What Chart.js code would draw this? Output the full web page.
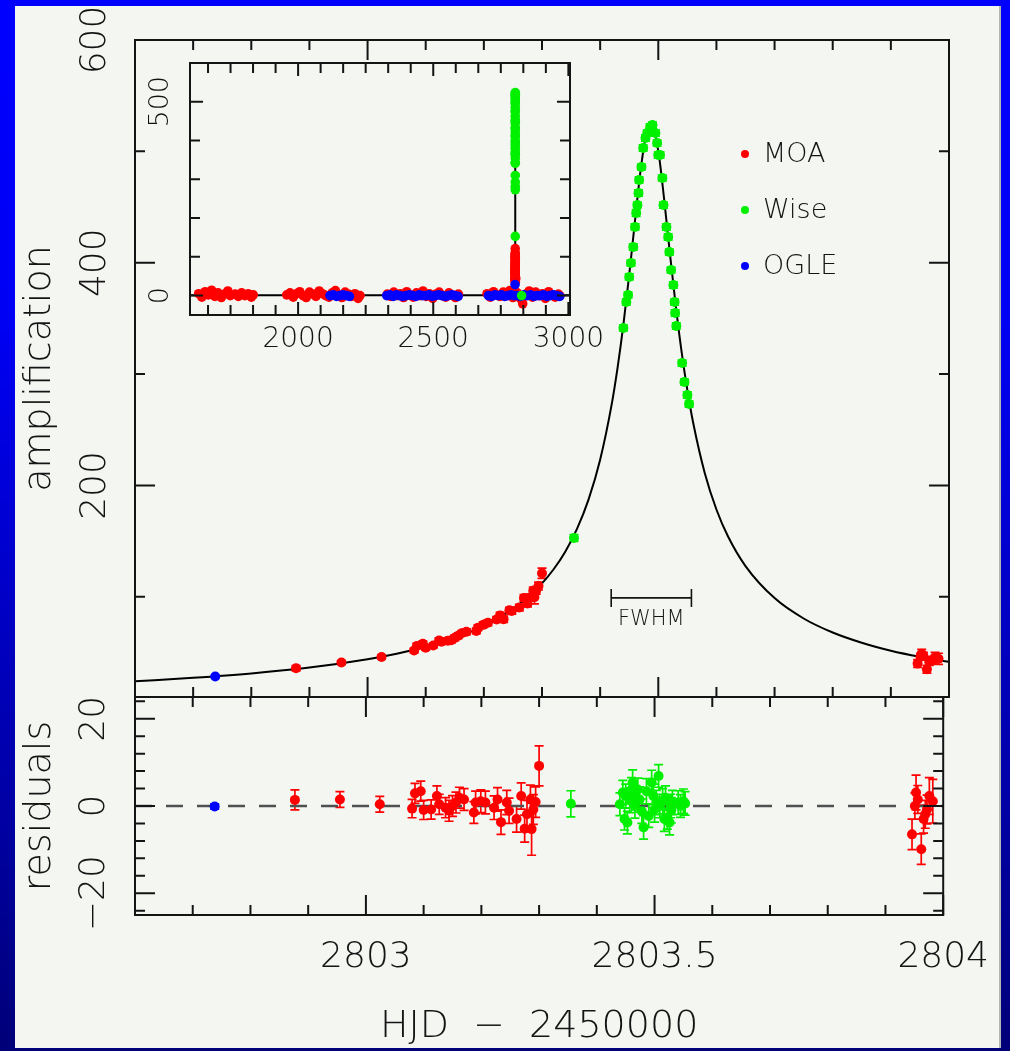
<!DOCTYPE html>
<html>
<head>
<meta charset="utf-8">
<script src="https://cdn.jsdelivr.net/npm/chart.js@4.4.1/dist/chart.umd.min.js"></script>
<style>
  html, body { margin: 0; padding: 0; width: 1010px; height: 1051px; overflow: hidden;
    background: linear-gradient(to bottom, #0000ff 0%, #0000f4 30%, #0000a8 75%, #000078 100%); }
  #panel { position: absolute; left: 15px; top: 6px; width: 986px; height: 1042px;
    background: #f4f6f2; border-right: 2px solid #b4b8b4; box-sizing: border-box; }
  canvas { position: absolute; left: 0; top: 0; }
</style>
</head>
<body>
<div id="panel"></div>
<canvas id="mainChart" width="1010" height="1051"></canvas>
<canvas id="residChart" width="1010" height="1051"></canvas>
<canvas id="insetChart" width="1010" height="1051"></canvas>
<script>
// ---------------- DATA ----------------
const seriesNames = ['MOA', 'Wise', 'OGLE'];

// model light curve
const modelT = [2802.60,2802.70,2802.80,2802.90,2803.00,2803.05,2803.10,2803.15,2803.20,2803.25,2803.28,2803.30,2803.32,2803.34,2803.36,2803.38,2803.40,2803.42,2803.43,2803.44,2803.45,2803.46,2803.47,2803.48,2803.487,2803.50,2803.51,2803.52,2803.53,2803.54,2803.55,2803.56,2803.58,2803.60,2803.62,2803.65,2803.70,2803.75,2803.80,2803.85,2803.90,2803.95,2804.00];
const modelA = [24.1,27.2,31.1,36.4,43.9,48.8,55.1,63.1,73.9,89.1,101.6,112.0,124.7,140.5,160.7,187.2,223.0,273.2,305.8,344.3,389.0,437.9,484.7,517.4,525.0,500.3,457.4,408.3,361.5,320.4,285.5,256.3,211.0,178.4,154.1,127.6,98.8,80.5,67.9,58.7,51.6,46.1,41.6];

// MOA
const moaT = [2802.877,2802.955,2803.024,
  2803.080,2803.085,2803.095,2803.100,2803.113,2803.123,2803.127,2803.138,2803.144,2803.150,2803.156,2803.162,2803.170,2803.187,2803.190,2803.199,2803.207,2803.222,2803.228,2803.234,2803.244,2803.248,2803.261,2803.269,2803.275,2803.279,2803.285,2803.287,2803.290,2803.294,2803.300,
  2803.946,2803.951,2803.953,2803.956,2803.962,2803.966,2803.969,2803.972,2803.976,2803.982];
const moaA = [35.8,41.0,46.0,
  51.8,55.9,57.8,54.2,56.2,60.8,59.6,60.6,60.9,63.1,65.1,67.3,68.6,69.3,72.3,74.8,76.6,79.6,83.3,79.9,87.8,87.3,90.3,98.9,94.0,99.2,105.5,99.7,105.7,109.6,121.2,
  40.0,46.1,48.9,47.0,35.0,41.6,42.4,43.2,46.0,44.3];
const moaRes = [1.4,1.5,0.4,
  -0.6,2.9,3.4,-0.9,-0.8,2.3,0.4,-0.4,-1.1,0.0,0.8,1.9,1.5,-1.5,0.8,1.1,0.8,-0.4,1.5,-3.7,0.8,-1.1,-3.0,2.3,-5.2,-1.9,1.5,-5.3,-0.8,0.9,9.2,
  -6.5,0.0,3.1,1.5,-9.9,-3.0,-1.9,-0.8,2.3,1.1];
const moaErr = [2.3,1.8,1.8,
  2.1,2.3,2.3,2.2,2.2,2.3,2.3,2.3,2.4,2.4,2.4,2.4,2.5,2.5,2.6,2.6,2.6,2.7,2.7,2.8,2.8,2.9,3.0,3.0,3.1,3.2,3.3,6.0,3.4,3.5,4.6,
  3.5,3.0,4.0,3.2,3.5,3.2,3.2,3.3,4.2,5.0];

// Wise
const wiseT = [2803.355,
  2803.440,2803.445,2803.448,2803.450,2803.453,2803.457,2803.460,2803.462,2803.464,2803.466,
  2803.467,2803.471,2803.474,2803.478,2803.481,2803.486,2803.490,2803.495,2803.498,2803.500,
  2803.503,2803.507,2803.509,2803.514,2803.517,2803.519,2803.522,2803.526,2803.528,2803.529,
  2803.531,2803.541,2803.545,2803.550,2803.553];
const wiseA = [152.8,
  341.4,364.7,371.0,387.2,399.7,414.1,432.1,444.6,451.8,462.6,
  474.3,485.9,503.0,512.0,516.5,521.9,523.6,516.5,507.5,496.7,
  496.7,476.1,451.8,432.1,423.1,409.6,393.4,380.0,364.7,354.8,
  343.2,309.9,292.9,281.2,273.1];
const wiseRes = [0.5,
  0.4,3.1,-3.0,2.3,-3.8,1.3,3.8,5.4,2.3,0.0,
  1.8,3.8,1.5,-1.2,-4.9,3.4,-2.3,5.4,2.3,-0.8,
  0.8,6.9,0.0,1.1,-3.0,1.9,-2.7,-3.8,0.0,-1.0,
  0.8,0.8,0.0,1.1,0.6];
const wiseErr = [3.0,
  2.6,2.8,2.5,2.7,2.6,2.8,2.7,2.9,2.6,2.8,
  2.7,2.6,2.9,2.8,2.7,2.9,2.6,2.8,2.7,2.9,
  2.8,2.6,2.7,2.9,2.8,2.7,2.6,2.8,2.7,2.9,
  2.8,2.7,2.6,2.8,2.7];

// OGLE
const ogleT = [2802.738];
const ogleA = [28.4];
const ogleRes = [-0.1];
const ogleErr = [0.6];

// inset: baseline seasons
const insetMoaT = [1632,1644,1656,1668,1680,1692,1704,1716,1728,1740,1749,
  1767,1779,1791,1803,1815,1827,1834,
  1958,1970,1982,1994,2006,2018,2030,2042,2054,2066,2078,2090,2102,2114,2126,2138,2150,2162,2174,2186,2198,2210,2222,2229,
  2330,2342,2354,2366,2378,2390,2402,2414,2426,2438,2450,2462,2474,2486,2498,2510,2522,2534,2546,2558,2570,2582,2593,
  2699,2711,2723,2735,2747,2759,2771,2783,2795,2811,2823,2831,2843,2855,2867,2879,2891,2903,2915,2927,2939,2951,2963,2968];
const insetMoaA = [5,-4,10,2,14,-2,7,-5,4,12,0,
  4,-2,7,0,5,-4,2,
  2,7,-4,5,10,0,-5,9,4,-2,12,5,0,-4,7,13,2,-5,9,4,-2,5,-7,0,
  4,-2,9,0,5,-5,10,2,-4,7,0,12,-2,5,-7,4,9,0,-4,7,2,-5,4,
  5,-4,10,2,-2,9,0,13,-5,7,-8,-21,4,12,-4,9,0,5,-7,10,2,-4,4,0];
const insetOgleT = [2118,2130,2142,2154,2166,2178,2190,
  2328,2340,2352,2364,2376,2388,2400,2412,2424,2436,2448,2460,2472,2484,2496,2508,2520,2532,2544,2556,2568,2580,2592,
  2704,2716,2728,2740,2752,2764,2776,2788,2800,2812,2824,2836,2848,2860,2872,2884,2896,2908,2920,2932,2944,2956,2968];
const insetOgleA = [0,2,-2,0,2,0,-2,
  0,2,-2,2,0,-2,0,2,0,-2,2,0,0,2,-2,0,2,0,-2,0,2,0,-2,
  0,-2,2,0,2,-2,0,2,0,0,-2,2,0,2,-2,0,0,2,-2,0,2,0,-2];
const insetWiseT = [2827];
const insetWiseA = [0];
const insetBaseT = [1600, 2790, 2816, 3006];
const insetBaseA = [1, 1, 1, 1];

// tick values
const mainXMajor = [2803, 2803.5, 2804];
const mainXMinor = [2802.7,2802.8,2802.9,2803.1,2803.2,2803.3,2803.4,2803.6,2803.7,2803.8,2803.9];
const mainYMajor = [200, 400, 600];
const mainYMinor = [100, 300, 500];
const resYMajor = [-20, 0, 20];
const resYMinor = [-24,-16,-12,-8,-4,4,8,12,16,24];
const insetXMajor = [2000, 2500, 3000];
const insetXMinor = [1666.7,1750,1833.3,1916.7,2083.3,2166.7,2250,2333.3,2416.7,2583.3,2666.7,2750,2833.3,2916.7];
const insetYMajor = [0, 500];
const insetYMinor = [100, 200, 300, 400];

const fwhmRange = [2803.419, 2803.557];
const fwhmLevel = 99;

// ---------------- STYLE ----------------
const RED = '#ff0000', GREEN = '#00f000', BLUE = '#0000ff';
const INK = '#141414';
const FONT = "'DejaVu Sans', 'Liberation Sans', sans-serif";
const pts = (xs, ys) => xs.map((x, i) => ({x: x, y: ys[i]}));

// ---------------- PLUGINS ----------------
const boxTicks = {
  id: 'boxTicks',
  afterDatasetsDraw(chart, args, o) {
    const {ctx, chartArea: a} = chart;
    const xs = chart.scales.x, ys = chart.scales.y;
    ctx.save();
    ctx.strokeStyle = o.color; ctx.lineWidth = o.lineWidth;
    ctx.beginPath();
    const vx = (vals, len) => vals.forEach(v => {
      const p = xs.getPixelForValue(v);
      if (p < a.left - 1 || p > a.right + 1) return;
      ctx.moveTo(p, a.bottom); ctx.lineTo(p, a.bottom - len);
      ctx.moveTo(p, a.top); ctx.lineTo(p, a.top + len);
    });
    const vy = (vals, len) => vals.forEach(v => {
      const p = ys.getPixelForValue(v);
      if (p < a.top - 1 || p > a.bottom + 1) return;
      ctx.moveTo(a.left, p); ctx.lineTo(a.left + len, p);
      ctx.moveTo(a.right, p); ctx.lineTo(a.right - len, p);
    });
    vx(o.xMajor, o.majorLen); vx(o.xMinor, o.minorLen);
    vy(o.yMajor, o.majorLen); vy(o.yMinor, o.minorLen);
    ctx.stroke();
    ctx.strokeRect(a.left, a.top, a.right - a.left, a.bottom - a.top);
    ctx.restore();
  }
};

const errBars = {
  id: 'errBars',
  beforeDatasetsDraw(chart) {
    const {ctx, chartArea: a} = chart;
    ctx.save();
    ctx.beginPath(); ctx.rect(a.left, a.top, a.right - a.left, a.bottom - a.top); ctx.clip();
    chart.data.datasets.forEach((ds, i) => {
      if (!ds.errors) return;
      const meta = chart.getDatasetMeta(i);
      const ys = chart.scales[meta.yAxisID];
      ctx.strokeStyle = ds.backgroundColor; ctx.lineWidth = 1.7;
      ctx.beginPath();
      meta.data.forEach((el, j) => {
        const v = ds.data[j].y, e = ds.errors[j];
        const y1 = ys.getPixelForValue(v - e), y2 = ys.getPixelForValue(v + e);
        const x = el.x;
        ctx.moveTo(x, y1); ctx.lineTo(x, y2);
        ctx.moveTo(x - 4.5, y1); ctx.lineTo(x + 4.5, y1);
        ctx.moveTo(x - 4.5, y2); ctx.lineTo(x + 4.5, y2);
      });
      ctx.stroke();
    });
    ctx.restore();
  }
};

const fwhmMark = {
  id: 'fwhmMark',
  afterDatasetsDraw(chart, args, o) {
    const {ctx} = chart;
    const xs = chart.scales.x, ys = chart.scales.y;
    const x1 = xs.getPixelForValue(o.range[0]), x2 = xs.getPixelForValue(o.range[1]);
    const y = ys.getPixelForValue(o.level);
    ctx.save();
    ctx.strokeStyle = INK; ctx.lineWidth = 1.6;
    ctx.beginPath();
    ctx.moveTo(x1, y); ctx.lineTo(x2, y);
    ctx.moveTo(x1, y - 9); ctx.lineTo(x1, y + 9);
    ctx.moveTo(x2, y - 9); ctx.lineTo(x2, y + 9);
    ctx.stroke();
    ctx.fillStyle = INK;
    ctx.font = '200 21px ' + FONT;
    ctx.textAlign = 'center'; ctx.textBaseline = 'middle';
    ctx.fillText(o.text, (x1 + x2) / 2, y + 22);
    ctx.restore();
  }
};

const keyBox = {
  id: 'keyBox',
  afterDatasetsDraw(chart, args, o) {
    const {ctx} = chart;
    ctx.save();
    ctx.font = '200 27px ' + FONT;
    ctx.textAlign = 'left'; ctx.textBaseline = 'middle';
    o.names.forEach((n, i) => {
      const y = o.y0 + i * o.dy;
      ctx.fillStyle = o.colors[i];
      ctx.beginPath(); ctx.arc(o.x, y, 4, 0, Math.PI * 2); ctx.fill();
      ctx.fillStyle = INK;
      ctx.fillText(n, o.x + 18, y + 1);
    });
    ctx.restore();
  }
};

const noGrid = {display: false, drawTicks: false, tickLength: 0};
const noBorder = {display: false};
const tickFont = {family: FONT, size: 36, weight: 200};
const titleFont = {family: FONT, size: 38, weight: 200};
const majors = arr => s => { s.ticks = arr.map(v => ({value: v})); };
const fmt = v => (v < 0 ? '\u2212' + Math.abs(v) : String(v));

const common = {
  responsive: false, animation: false, devicePixelRatio: 1,
  events: []
};

// ---------------- MAIN PANEL ----------------
new Chart(document.getElementById('mainChart'), {
  type: 'scatter',
  data: { datasets: [
    {label: 'Wise', data: pts(wiseT, wiseA), errors: wiseErr, backgroundColor: GREEN, borderWidth: 0, pointRadius: 5},
    {label: 'OGLE', data: pts(ogleT, ogleA), errors: ogleErr, backgroundColor: BLUE, borderWidth: 0, pointRadius: 5},
    {label: 'MOA', data: pts(moaT, moaA), errors: moaErr, backgroundColor: RED, borderWidth: 0, pointRadius: 5},
    {type: 'line', label: 'model', data: pts(modelT, modelA), borderColor: '#000', borderWidth: 2,
     pointRadius: 0, cubicInterpolationMode: 'monotone', fill: false}
  ]},
  options: Object.assign({}, common, {
    layout: {padding: {left: 0, top: 40, right: 61, bottom: 354}},
    plugins: {
      legend: {display: false}, tooltip: {enabled: false},
      boxTicks: {color: INK, lineWidth: 2, majorLen: 20, minorLen: 10,
        xMajor: mainXMajor, xMinor: mainXMinor, yMajor: mainYMajor, yMinor: mainYMinor},
      fwhmMark: {range: fwhmRange, level: fwhmLevel, text: 'FWHM'},
      keyBox: {names: seriesNames, colors: [RED, GREEN, BLUE], x: 745, y0: 154, dy: 56}
    },
    scales: {
      x: {type: 'linear', min: 2802.6, max: 2804, grid: noGrid, border: noBorder,
          ticks: {display: false}, afterBuildTicks: majors(mainXMajor), afterFit: s => { s.height = 0; }},
      y: {type: 'linear', min: 10, max: 600, position: 'left', grid: noGrid, border: noBorder,
          afterBuildTicks: majors(mainYMajor), afterFit: s => { s.width = 135; },
          ticks: {minRotation: 90, maxRotation: 90, crossAlign: 'center', padding: 5, autoSkip: false,
                  font: tickFont, color: INK, callback: fmt},
          title: {display: true, text: 'amplification', font: titleFont, color: INK, padding: {top: 17, bottom: 0}}}
    }
  }),
  plugins: [errBars, boxTicks, fwhmMark, keyBox]
});

// ---------------- RESIDUALS PANEL ----------------
new Chart(document.getElementById('residChart'), {
  type: 'scatter',
  data: { datasets: [
    {label: 'Wise', data: pts(wiseT, wiseRes), errors: wiseErr, backgroundColor: GREEN, borderWidth: 0, pointRadius: 5},
    {label: 'OGLE', data: pts(ogleT, ogleRes), errors: ogleErr, backgroundColor: BLUE, borderWidth: 0, pointRadius: 5},
    {label: 'MOA', data: pts(moaT, moaRes), errors: moaErr, backgroundColor: RED, borderWidth: 0, pointRadius: 5},
    {type: 'line', label: 'zero', data: [{x: 2802.6, y: 0}, {x: 2804, y: 0}], borderColor: '#505050',
     borderWidth: 2.5, borderDash: [17, 14], pointRadius: 0, fill: false}
  ]},
  options: Object.assign({}, common, {
    layout: {padding: {left: 0, top: 697, right: 61, bottom: 0}},
    plugins: {
      legend: {display: false}, tooltip: {enabled: false},
      boxTicks: {color: INK, lineWidth: 2, majorLen: 20, minorLen: 10,
        xMajor: mainXMajor, xMinor: mainXMinor, yMajor: resYMajor, yMinor: resYMinor}
    },
    scales: {
      x: {type: 'linear', min: 2802.6, max: 2804, grid: noGrid, border: noBorder,
          afterBuildTicks: majors(mainXMajor), afterFit: s => { s.height = 136; },
          ticks: {maxRotation: 0, minRotation: 0, padding: 21, autoSkip: false, font: tickFont, color: INK,
                  callback: v => String(v)},
          title: {display: true, text: 'HJD  \u2212  2450000', font: titleFont, color: INK, padding: {top: 0, bottom: 1}}},
      y: {type: 'linear', min: -25, max: 25, position: 'left', grid: noGrid, border: noBorder,
          afterBuildTicks: majors(resYMajor), afterFit: s => { s.width = 135; },
          ticks: {minRotation: 90, maxRotation: 90, crossAlign: 'center', padding: 2, autoSkip: false,
                  font: tickFont, color: INK, callback: fmt},
          title: {display: true, text: 'residuals', font: titleFont, color: INK, padding: {top: 17, bottom: 0}}}
    }
  }),
  plugins: [errBars, boxTicks]
});

// ---------------- INSET ----------------
new Chart(document.getElementById('insetChart'), {
  type: 'scatter',
  data: { datasets: [
    {label: 'Wise', data: pts(insetWiseT.concat(wiseT), insetWiseA.concat(wiseA)), backgroundColor: GREEN, borderWidth: 0, pointRadius: 4.8},
    {label: 'OGLE', data: pts(insetOgleT.concat(ogleT), insetOgleA.concat(ogleA)), backgroundColor: BLUE, borderWidth: 0, pointRadius: 4.8},
    {label: 'MOA', data: pts(insetMoaT.concat(moaT), insetMoaA.concat(moaA)), backgroundColor: RED, borderWidth: 0, pointRadius: 4.8},
    {type: 'line', label: 'model',
     data: pts([insetBaseT[0], insetBaseT[1]].concat(modelT, [insetBaseT[2], insetBaseT[3]]),
               [insetBaseA[0], insetBaseA[1]].concat(modelA, [insetBaseA[2], insetBaseA[3]])),
     borderColor: '#000', borderWidth: 2, pointRadius: 0, tension: 0, fill: false}
  ]},
  options: Object.assign({}, common, {
    layout: {padding: {left: 120, top: 63, right: 440, bottom: 686}},
    plugins: {
      legend: {display: false}, tooltip: {enabled: false},
      boxTicks: {color: INK, lineWidth: 2, majorLen: 13, minorLen: 10,
        xMajor: insetXMajor, xMinor: insetXMinor, yMajor: insetYMajor, yMinor: insetYMinor}
    },
    scales: {
      x: {type: 'linear', min: 1600, max: 3006, grid: noGrid, border: noBorder,
          afterBuildTicks: majors(insetXMajor), afterFit: s => { s.height = 50; },
          ticks: {maxRotation: 0, minRotation: 0, padding: 8, autoSkip: false,
                  font: {family: FONT, size: 28, weight: 200}, color: INK, callback: v => String(v)}},
      y: {type: 'linear', min: -50, max: 600, position: 'left', grid: noGrid, border: noBorder,
          afterBuildTicks: majors(insetYMajor), afterFit: s => { s.width = 70; },
          ticks: {minRotation: 90, maxRotation: 90, crossAlign: 'center', padding: 3, autoSkip: false,
                  font: {family: FONT, size: 27, weight: 200}, color: INK, callback: fmt}}
    }
  }),
  plugins: [boxTicks]
});
</script>
</body>
</html>
